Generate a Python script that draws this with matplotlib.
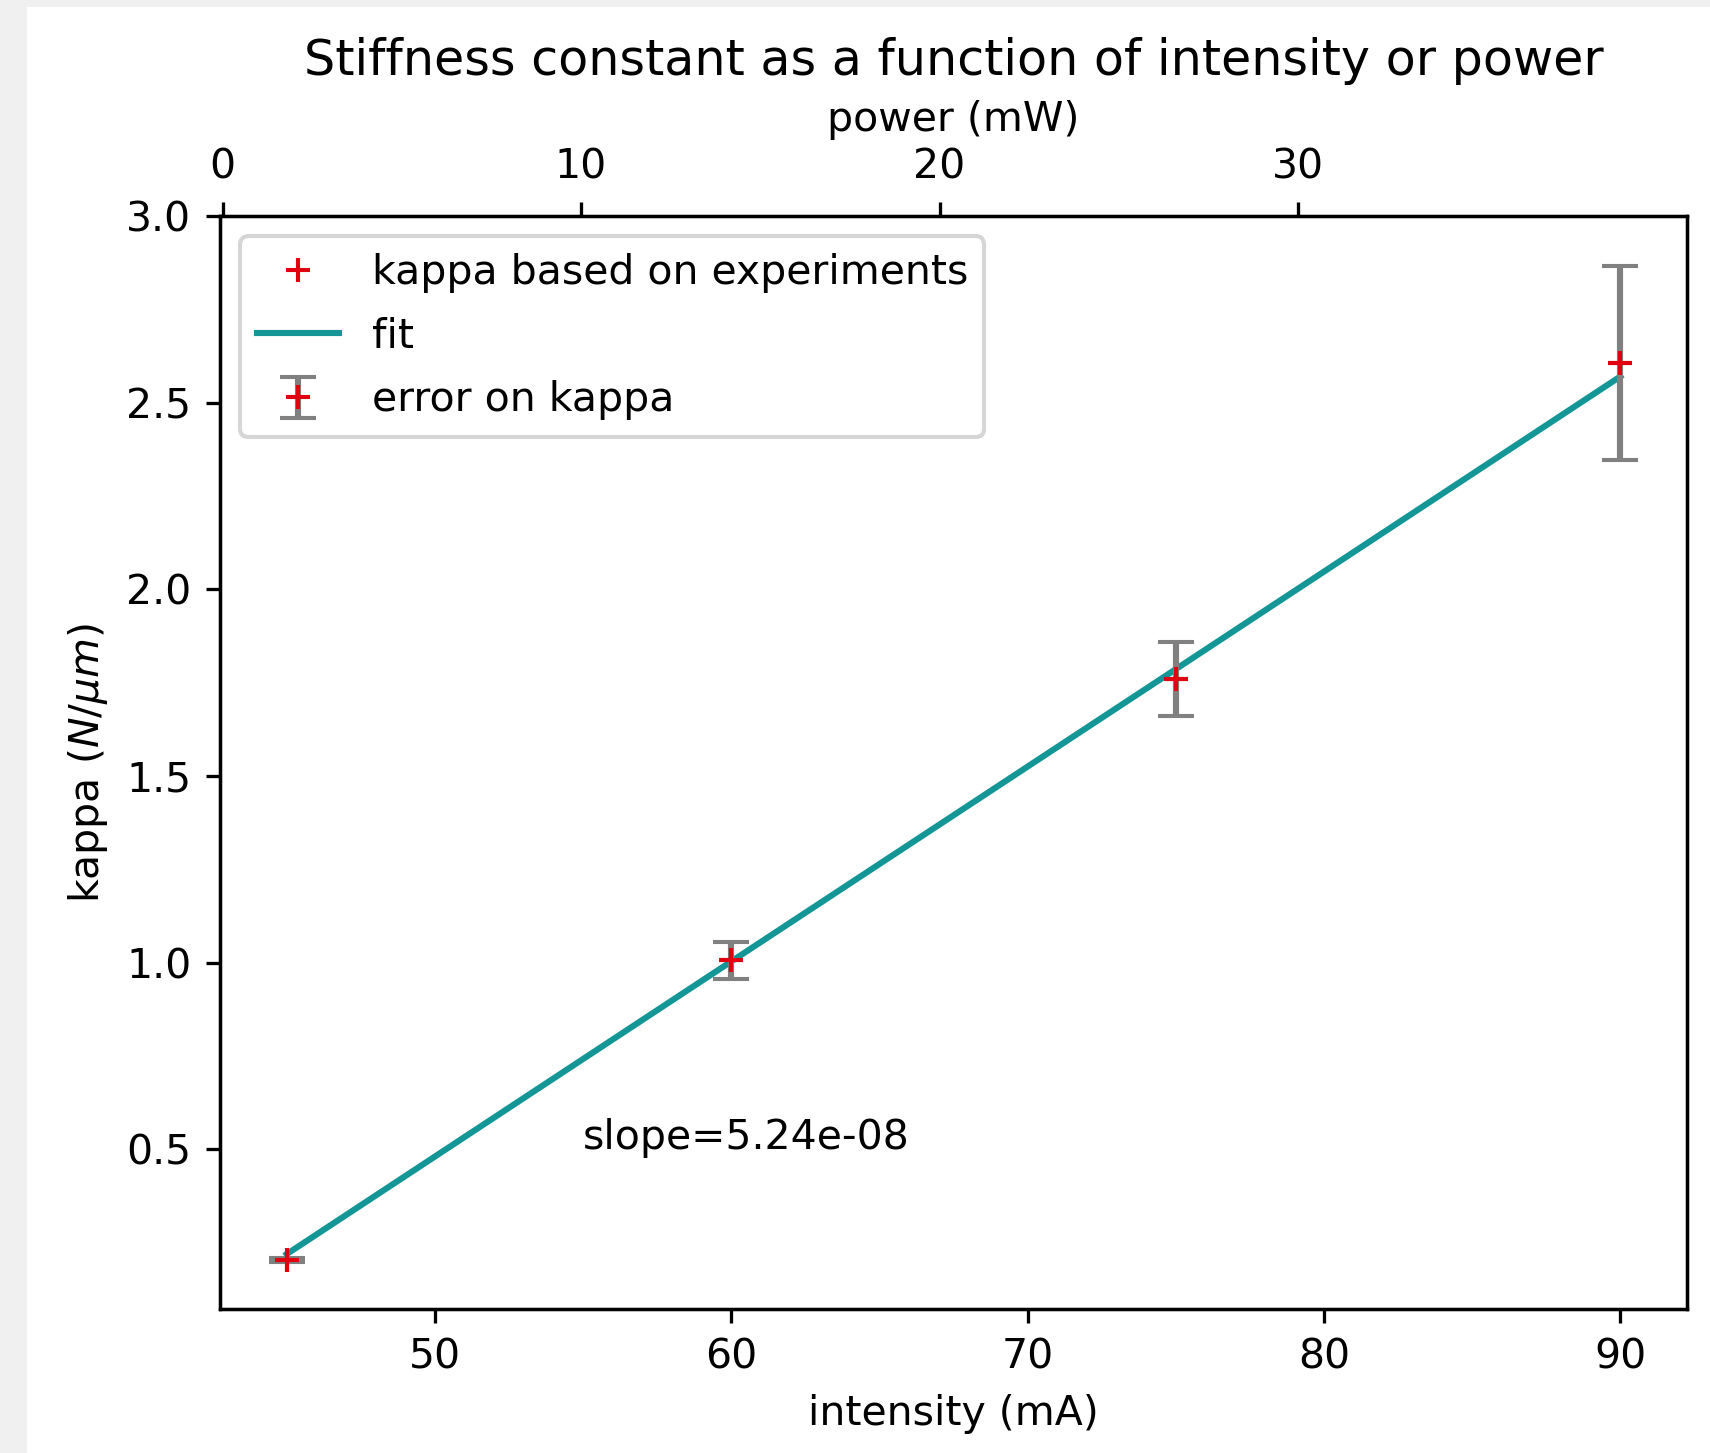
import matplotlib
matplotlib.use("Agg")
import matplotlib.pyplot as plt
from matplotlib.patches import Rectangle

# Data
intensity = [45, 60, 75, 90]            # mA
kappa = [0.203, 1.006, 1.759, 2.606]     # N/um
kappa_err = [0.005, 0.049, 0.099, 0.26]
fit_kappa = [0.219, 1.003, 1.786, 2.570]
power_lim = [-0.07, 40.85]               # mW (top axis range)
power_ticks = [0, 10, 20, 30]
kappa_lim = [0.072, 3.0]
slope_text = "slope=5.24e-08"

DPI = 295
W, H = 1710, 1453
fig = plt.figure(figsize=(W / DPI, H / DPI), dpi=DPI, facecolor="white")

# light gray screenshot border (left and top)
fig.patches.append(Rectangle((0, 0), 27 / W, 1, transform=fig.transFigure,
                             facecolor="#f0f0f0", edgecolor="none", zorder=-10))
fig.patches.append(Rectangle((0, 1 - 7 / H), 1, 7 / H, transform=fig.transFigure,
                             facecolor="#f0f0f0", edgecolor="none", zorder=-10))

left, right = 220 / W, 1687 / W
bottom, top = 1 - 1309 / H, 1 - 216 / H
ax = fig.add_axes([left, bottom, right - left, top - bottom])

ax.plot(intensity, kappa, "+", color="#e00010", label="kappa based on experiments")
ax.plot(intensity, fit_kappa, color="#149696", label="fit")
ax.errorbar(intensity, kappa, yerr=kappa_err, fmt="+", color="#e00010", ecolor="gray",
            capsize=4.5, label="error on kappa")
ax.text(55, 0.5, slope_text)

ax.set_ylim(*kappa_lim)
ax.set_xlabel("intensity (mA)")
ax.set_ylabel(r"kappa ($N/\mu m$)")
ax.legend(loc="upper left", labelspacing=0.58)

ax2 = ax.twiny()
ax2.set_xlim(*power_lim)
ax2.set_xticks(power_ticks)
ax2.set_xlabel("power (mW)")
ax.set_title("Stiffness constant as a function of intensity or power")

fig.savefig("out.png", dpi=DPI, facecolor=fig.get_facecolor())
